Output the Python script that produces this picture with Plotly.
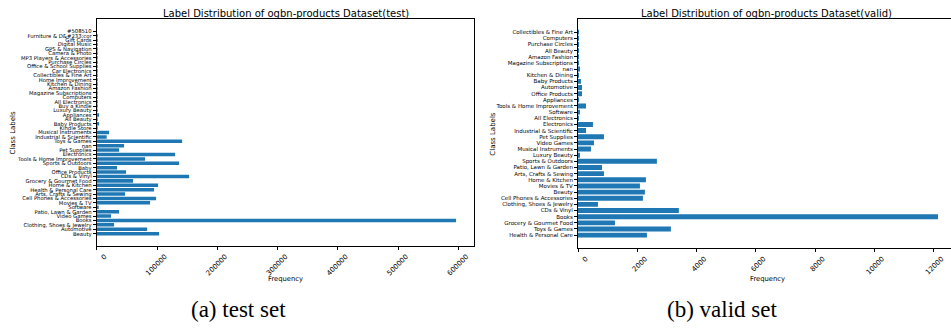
import plotly.graph_objects as go

# ---- data (bottom-to-top order as drawn) ----
test_labels = [
    "Beauty", "Automotive", "Clothing, Shoes & Jewelry", "Books", "Video Games",
    "Patio, Lawn & Garden", "Software", "Movies & TV", "Cell Phones & Accessories",
    "Arts, Crafts & Sewing", "Health & Personal Care", "Home & Kitchen",
    "Grocery & Gourmet Food", "CDs & Vinyl", "Office Products", "Baby",
    "Sports & Outdoors", "Tools & Home Improvement", "Electronics", "Pet Supplies",
    "nan", "Toys & Games", "Industrial & Scientific", "Musical Instruments",
    "Kindle Store", "Baby Products", "All Beauty", "Appliances", "Luxury Beauty",
    "Buy a Kindle", "All Electronics", "Computers", "Magazine Subscriptions",
    "Amazon Fashion", "Kitchen & Dining", "Home Improvement",
    "Collectibles & Fine Art", "Car Electronics", "Office & School Supplies",
    "Purchase Circles", "MP3 Players & Accessories", "Camera & Photo",
    "GPS & Navigation", "Digital Music", "Gift Cards", "Furniture & D&amp;#233;cor",
    "#508510",
]
test_values = [
    103500, 83600, 28800, 596000, 23800,
    37100, 3300, 88500, 98500,
    47000, 95200, 101800,
    60300, 153300, 48700, 33800,
    136700, 80200, 130000, 37100,
    45400, 141700, 16600, 20500,
    1600, 3800, 1000, 3800, 1600,
    600, 900, 500, 300,
    400, 500, 200,
    150, 120, 100,
    80, 60, 50,
    40, 30, 20, 10,
    5,
]

valid_labels = [
    "Health & Personal Care", "Toys & Games", "Grocery & Gourmet Food", "Books",
    "CDs & Vinyl", "Clothing, Shoes & Jewelry", "Cell Phones & Accessories",
    "Beauty", "Movies & TV", "Home & Kitchen", "Arts, Crafts & Sewing",
    "Patio, Lawn & Garden", "Sports & Outdoors", "Luxury Beauty",
    "Musical Instruments", "Video Games", "Pet Supplies", "Industrial & Scientific",
    "Electronics", "All Electronics", "Software", "Tools & Home Improvement",
    "Appliances", "Office Products", "Automotive", "Baby Products",
    "Kitchen & Dining", "nan", "Magazine Subscriptions", "Amazon Fashion",
    "All Beauty", "Purchase Circles", "Computers", "Collectibles & Fine Art",
]
valid_values = [
    2326, 3135, 1247, 12150,
    3404, 674, 2191,
    2258, 2090, 2292, 876,
    809, 2663, 50,
    438, 540, 876, 270,
    505, 10, 67, 270,
    15, 135, 135, 100,
    10, 67, 8, 12,
    20, 10, 15, 5,
]

W, H = 951, 329
BLUE = "#1f77b4"
FONT = "DejaVu Sans"
TXT = "black"

def px_x(p):
    return p / W

def px_y(p):
    return 1 - p / H

fig = go.Figure()
fig.add_trace(go.Bar(x=test_values, y=test_labels, orientation="h",
                     marker=dict(color=BLUE, line=dict(width=0)),
                     xaxis="x", yaxis="y", showlegend=False))
fig.add_trace(go.Bar(x=valid_values, y=valid_labels, orientation="h",
                     marker=dict(color=BLUE, line=dict(width=0)),
                     xaxis="x2", yaxis="y2", showlegend=False))

n1, n2 = len(test_labels), len(valid_labels)
m1 = 0.05 * (n1 - 1 + 0.8)
m2 = 0.05 * (n2 - 1 + 0.8)

common_x = dict(showline=True, linecolor="black", linewidth=1, mirror=True,
                ticks="outside", ticklen=3, tickwidth=1, tickcolor="black",
                showgrid=False, zeroline=False, tickangle=-45, tickformat="d",
                ticklabelshift=8,
                tickfont=dict(family=FONT, size=7, color=TXT))
common_y = dict(showline=True, linecolor="black", linewidth=1,
                ticks="outside", ticklen=3, tickwidth=1, tickcolor="black",
                showgrid=False, zeroline=False, type="category",
                tickmode="linear", tick0=0, dtick=1)

fig.update_layout(
    width=W, height=H, margin=dict(l=0, r=0, t=0, b=0),
    paper_bgcolor="white", plot_bgcolor="white", bargap=0.2,
    xaxis=dict(domain=[px_x(96.7), px_x(474.3)], anchor="y",
               range=[0, 626200], tick0=0, dtick=100000, **common_x),
    yaxis=dict(domain=[px_y(245.7), px_y(19.3)], anchor="x",
               range=[-0.4 - m1, n1 - 1 + 0.4 + m1], mirror=True,
               tickfont=dict(family=FONT, size=5.3, color=TXT), **common_y),
    xaxis2=dict(domain=[px_x(578), 1.0], anchor="y2",
                range=[0, 12588], tick0=0, dtick=2000, **common_x),
    yaxis2=dict(domain=[px_y(248), px_y(19.3)], anchor="x2",
                range=[-0.4 - m2, n2 - 1 + 0.4 + m2], mirror=False,
                tickfont=dict(family=FONT, size=5.5, color=TXT), **common_y),
)

ann = []
def add_text(text, x, y, size, angle=0, family=FONT, color=TXT):
    ann.append(dict(text=text, x=px_x(x), y=px_y(y), xref="paper", yref="paper",
                    showarrow=False, xanchor="center", yanchor="middle",
                    textangle=angle, font=dict(family=family, size=size, color=color)))

add_text("Label Distribution of ogbn-products Dataset(test)", 285.5, 13.5, 10)
add_text("Label Distribution of ogbn-products Dataset(valid)", 766.5, 13.5, 10)
add_text("Frequency", 285.5, 278.5, 6.8)
add_text("Frequency", 767, 278.5, 6.8)
add_text("Class Labels", 12, 132.5, 7, angle=-90)
add_text("Class Labels", 493, 133.7, 7, angle=-90)
add_text("(a) test set", 238, 309, 23, family="Liberation Serif", color="black")
add_text("(b) valid set", 722, 309, 23, family="Liberation Serif", color="black")
fig.update_layout(annotations=ann)

fig.write_html("out.html")
